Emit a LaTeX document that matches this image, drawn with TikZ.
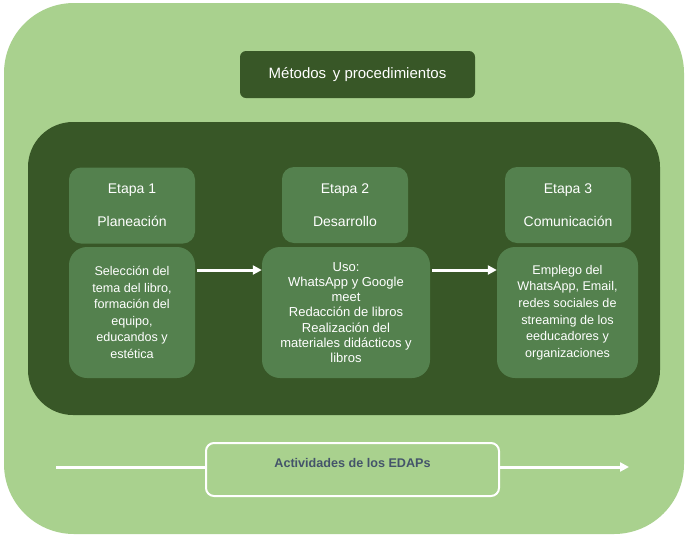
\documentclass[tikz,border=0pt]{standalone}
\usepackage{fontspec}
\setmainfont{Liberation Sans}
\usetikzlibrary{arrows.meta}
\definecolor{lightg}{HTML}{A9D18E}
\definecolor{darkg}{HTML}{385727}
\definecolor{midg}{HTML}{54814E}
\definecolor{slate}{HTML}{44546A}
\tikzset{
  headbox/.style={fill=midg, rounded corners=12pt, minimum width=126pt, minimum height=76pt,
    text=white, align=center, inner sep=0pt, font=\fontsize{14}{19}\selectfont},
  bodybox/.style={fill=midg, rounded corners=18pt, minimum height=131pt,
    text=white, align=center, inner sep=0pt},
  whitearrow/.style={draw=white, line width=3pt, -{Triangle[length=9pt,width=9pt]}},
  whiteline/.style={draw=white, line width=3pt}
}
\begin{document}
\begin{tikzpicture}[x=1pt,y=-1pt]
\useasboundingbox (0,0) rectangle (685,536);
% outer container
\fill[lightg, rounded corners=70pt] (4,3) rectangle (684,534);
% title
\node[fill=darkg, rounded corners=6pt, minimum width=235pt, minimum height=47pt, text=white,
  font=\fontsize{15}{18}\selectfont, inner sep=0pt] (title) at (357.5,74.5) {Métodos\, y procedimientos};
% inner dark container
\fill[darkg, rounded corners=45pt] (28,122) rectangle (660,415);
% headers
\node[headbox] (h1) at (132,205.5) {Etapa 1\\[14pt]Planeación};
\node[headbox] (h2) at (345,205) {Etapa 2\\[14pt]Desarrollo};
\node[headbox] (h3) at (568,205) {Etapa 3\\[14pt]Comunicación};
% bodies
\node[bodybox, minimum width=126pt, font=\fontsize{12.6}{16.6}\selectfont] (b1) at (132,312.5)
  {Selección del\\tema del libro,\\formación del\\equipo,\\educandos y\\estética};
\node[bodybox, minimum width=168pt, font=\fontsize{13}{15.1}\selectfont] (b2) at (346,312.5)
  {Uso:\\WhatsApp y Google\\meet\\Redacción de libros\\Realización del\\materiales didácticos y\\libros};
\node[bodybox, minimum width=141pt, font=\fontsize{12.6}{16.6}\selectfont] (b3) at (567.5,312.5)
  {Emplego del\\WhatsApp, Email,\\redes sociales de\\streaming de los\\eeducadores y\\organizaciones};
% arrows between stages
\draw[whitearrow] ([xshift=2pt,yshift=42.5pt]b1.east) -- ([yshift=42.5pt]b2.west);
\draw[whitearrow] ([xshift=2pt,yshift=42.5pt]b2.east) -- ([yshift=42.5pt]b3.west);
% bottom activity bar
\coordinate (L) at (56,467);
\coordinate (R) at (629,467);
\node[fill=lightg, draw=white, line width=2pt, rounded corners=8pt, minimum width=293pt,
  minimum height=53pt, inner sep=0pt, text=slate, text depth=14pt,
  font=\fontsize{12.6}{15}\selectfont\bfseries] (act) at (352.5,469.5) {Actividades de los EDAPs};
\draw[whiteline] (L) -- (L -| act.west);
\draw[whitearrow] (R -| act.east) -- (R);
\end{tikzpicture}
\end{document}
